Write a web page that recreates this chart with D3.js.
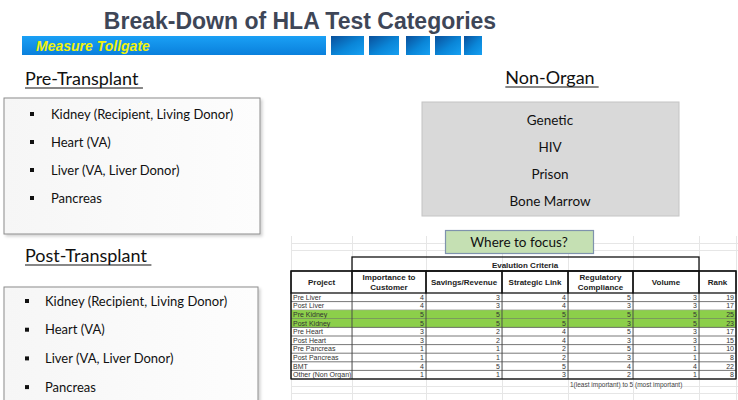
<!DOCTYPE html>
<html><head><meta charset="utf-8">
<script src="https://cdn.jsdelivr.net/npm/d3@7"></script>
<style>body{margin:0;background:#fff}svg{display:block}</style>
</head><body>
<script>
// ---- data ----
const title = "Break-Down of HLA Test Categories";
const banner = "Measure Tollgate";
const preTransplant = ["Kidney (Recipient, Living Donor)", "Heart (VA)", "Liver (VA, Liver Donor)", "Pancreas"];
const postTransplant = ["Kidney (Recipient, Living Donor)", "Heart (VA)", "Liver (VA, Liver Donor)", "Pancreas"];
const nonOrgan = ["Genetic", "HIV", "Prison", "Bone Marrow"];
const projects = ["Pre Liver","Post Liver","Pre Kidney","Post Kidney","Pre Heart","Post Heart","Pre Pancreas","Post Pancreas","BMT","Other (Non Organ)"];
const criteria = ["Importance to\nCustomer","Savings/Revenue","Strategic Link","Regulatory\nCompliance","Volume"];
const importance = [4,4,5,5,3,3,1,1,4,1];
const savings    = [3,3,5,5,2,2,1,1,5,1];
const strategic  = [4,4,5,5,4,4,2,2,5,3];
const regulatory = [5,3,5,3,5,3,5,3,4,2];
const volume     = [3,3,5,5,3,3,1,1,4,1];
const rank       = [19,17,25,23,17,15,10,8,22,8];
const highlighted = ["Pre Kidney","Post Kidney"];
const footnote = "1(least important) to 5 (most important)";

// ---- layout ----
const W = 738, H = 400;
const svg = d3.select("body").append("svg").attr("width", W).attr("height", H);
const defs = svg.append("defs");
const body = "Lato, 'Open Sans', sans-serif";

// gradients
const gb = defs.append("linearGradient").attr("id","gbar").attr("x1",0).attr("y1",0).attr("x2",0).attr("y2",1);
gb.append("stop").attr("offset",0).attr("stop-color","#1aa0f5");
gb.append("stop").attr("offset",1).attr("stop-color","#0a80dc");
const gs = defs.append("linearGradient").attr("id","gsq").attr("x1",0).attr("y1",0).attr("x2",1).attr("y2",1);
gs.append("stop").attr("offset",0).attr("stop-color","#0a4f9a");
gs.append("stop").attr("offset",0.55).attr("stop-color","#0a86d8");
gs.append("stop").attr("offset",1).attr("stop-color","#16a0f2");
const gbox = defs.append("linearGradient").attr("id","gbox").attr("x1",0).attr("y1",0).attr("x2",1).attr("y2",0);
gbox.append("stop").attr("offset",0).attr("stop-color","#f6f6f6");
gbox.append("stop").attr("offset",1).attr("stop-color","#fdfdfd");
const sh = defs.append("filter").attr("id","shadow").attr("x","-5%").attr("y","-5%").attr("width","115%").attr("height","115%");
sh.append("feDropShadow").attr("dx",2).attr("dy",2).attr("stdDeviation",1.5).attr("flood-color","#000").attr("flood-opacity",0.18);

// title
svg.append("text").attr("x", 300).attr("y", 29).attr("text-anchor","middle")
  .attr("font-family","Arial, 'Liberation Sans', sans-serif").attr("font-weight","bold")
  .attr("font-size", 23).attr("fill","#3e4657").text(title);

// banner
svg.append("rect").attr("x",22).attr("y",36).attr("width",304).attr("height",19).attr("fill","url(#gbar)");
svg.append("text").attr("x",36).attr("y",51).attr("font-family","Arial, 'Liberation Sans', sans-serif")
  .attr("font-weight","bold").attr("font-style","italic").attr("font-size",14).attr("fill","#f2f20a").text(banner);
const squares = [[331,33],[369,30],[406,24],[435,26],[464,18]];
svg.selectAll("rect.sq").data(squares).join("rect").attr("class","sq")
  .attr("x",d=>d[0]).attr("y",36).attr("width",d=>d[1]).attr("height",19).attr("fill","url(#gsq)");

// section titles
function heading(txt, x, y, anchor){
  const t = svg.append("text").attr("x",x).attr("y",y).attr("text-anchor",anchor||"start")
    .attr("font-family",body).attr("font-size",18).attr("fill","#111").text(txt);
  const bb = t.node().getBBox();
  svg.append("line").attr("x1",bb.x).attr("x2",bb.x+bb.width+4).attr("y1",y+3).attr("y2",y+3)
    .attr("stroke","#111").attr("stroke-width",1.2);
}
heading("Pre-Transplant", 25, 85);
heading("Post-Transplant", 25, 262);
heading("Non-Organ", 550, 84, "middle");

// bullet boxes
function bulletBox(items, x, y, w, h, bx, tx, y0, dy){
  svg.append("rect").attr("x",x).attr("y",y).attr("width",w).attr("height",h)
    .attr("fill","url(#gbox)").attr("stroke","#8c8c8c").attr("stroke-width",1).attr("filter","url(#shadow)");
  const yS = d3.scalePoint().domain(items).range([y0, y0 + dy*(items.length-1)]);
  const g = svg.append("g");
  g.selectAll("rect").data(items).join("rect").attr("x",bx-2).attr("y",d=>yS(d)-2).attr("width",4).attr("height",4).attr("fill","#111");
  g.selectAll("text").data(items).join("text").attr("x",tx).attr("y",d=>yS(d)+4.5)
    .attr("font-family",body).attr("font-size",13).attr("fill","#111").text(d=>d);
}
bulletBox(preTransplant, 4, 98, 256, 136, 32, 51, 114, 28);
bulletBox(postTransplant, 4, 287, 254, 130, 27, 45, 301, 28.7);

// non-organ box
svg.append("rect").attr("x",422).attr("y",102).attr("width",257).attr("height",114)
  .attr("fill","#d9d9d9").attr("stroke","#c4c4c4");
const nyS = d3.scalePoint().domain(nonOrgan).range([120,201]);
svg.selectAll("text.no").data(nonOrgan).join("text").attr("class","no")
  .attr("x",550).attr("y",d=>nyS(d)+5).attr("text-anchor","middle")
  .attr("font-family",body).attr("font-size",13.5).attr("fill","#111").text(d=>d);

// faint spreadsheet grid
const grid = svg.append("g").attr("stroke","#e6e6e6").attr("stroke-width",1);
[291,352,426,502,568,633,699,736].forEach(x=>grid.append("line").attr("x1",x+0.5).attr("x2",x+0.5).attr("y1",236).attr("y2",400));
[243,250,386,393].forEach(y=>grid.append("line").attr("x1",291).attr("x2",738).attr("y1",y+0.5).attr("y2",y+0.5));

// where to focus
svg.append("rect").attr("x",445.5).attr("y",230.5).attr("width",148).attr("height",23)
  .attr("fill","#c5e0b3").attr("stroke","#7f93ad").attr("stroke-width",1.2);
svg.append("text").attr("x",519).attr("y",247).attr("text-anchor","middle")
  .attr("font-family",body).attr("font-size",13.5).attr("fill","#111").text("Where to focus?");

// table
const colEdges = [291,352,426,502,568,633,699,736];
const columns = ["Project", ...criteria, "Rank"];
const colX = d3.scaleOrdinal().domain(columns).range(colEdges.slice(0,-1));
const colW = d3.scaleOrdinal().domain(columns).range(colEdges.slice(1).map((e,i)=>e-colEdges[i]));
const yRow = d3.scaleBand().domain(projects).range([293,379]);
const valueCols = [importance, savings, strategic, regulatory, volume, rank];
const tbl = svg.append("g").attr("font-family","Arial, 'Liberation Sans', sans-serif");

// rows
projects.forEach((p,i)=>{
  const y = yRow(p), h = yRow.bandwidth();
  const hl = highlighted.includes(p);
  if(hl) tbl.append("rect").attr("x",291).attr("y",y).attr("width",445).attr("height",h).attr("fill","#8ccf4a");
  tbl.append("text").attr("x",293).attr("y",y+h-1.8).attr("font-size",7).attr("fill","#333").text(p);
  valueCols.forEach((vals,j)=>{
    const c = columns[j+1];
    tbl.append("text").attr("x",colX(c)+colW(c)-2).attr("y",y+h-1.8).attr("text-anchor","end")
      .attr("font-size",7).attr("fill","#333").text(vals[i]);
  });
  tbl.append("line").attr("x1",291).attr("x2",736).attr("y1",y+h).attr("y2",y+h).attr("stroke","#555").attr("stroke-width",0.8);
});
colEdges.forEach(x=>tbl.append("line").attr("x1",x).attr("x2",x).attr("y1",293).attr("y2",379).attr("stroke","#444").attr("stroke-width",0.9));

// header
tbl.append("rect").attr("x",352).attr("y",257).attr("width",347).attr("height",14).attr("fill","none").attr("stroke","#111").attr("stroke-width",1.3);
tbl.append("text").attr("x",525).attr("y",267.5).attr("text-anchor","middle").attr("font-size",8).attr("font-weight","bold").attr("fill","#222").text("Evalution Criteria");
columns.forEach(c=>{
  tbl.append("rect").attr("x",colX(c)).attr("y",271).attr("width",colW(c)).attr("height",22)
    .attr("fill","none").attr("stroke","#111").attr("stroke-width",1.3);
  const lines = c.split("\n");
  lines.forEach((ln,k)=>{
    tbl.append("text").attr("x",colX(c)+colW(c)/2).attr("y",285 + (k - (lines.length-1)/2)*9.5)
      .attr("text-anchor","middle").attr("font-size",8).attr("font-weight","bold").attr("fill","#222").text(ln);
  });
});
tbl.append("rect").attr("x",291).attr("y",271).attr("width",445).attr("height",108).attr("fill","none").attr("stroke","#111").attr("stroke-width",1.2);
tbl.append("text").attr("x",570).attr("y",387).attr("font-size",6.5).attr("fill","#444").text(footnote);
</script>
</body></html>
